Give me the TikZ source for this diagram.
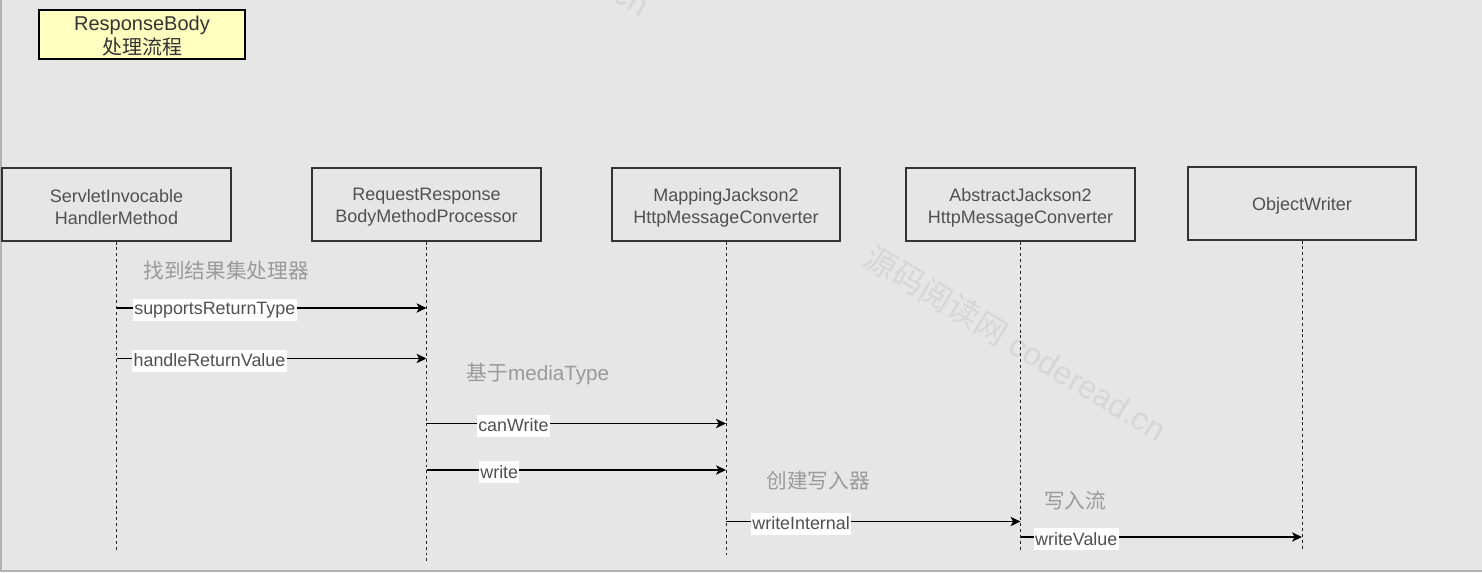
\documentclass[tikz,border=0pt]{standalone}
\usepackage{fontspec}
\setmainfont{Liberation Sans}
\newfontfamily\cjk{Noto Sans CJK SC}
\usetikzlibrary{arrows.meta}
\definecolor{bgc}{HTML}{E6E6E6}
\definecolor{edgec}{HTML}{B3B3B3}
\definecolor{boxtext}{HTML}{505050}
\definecolor{notec}{HTML}{9A9A9A}
\definecolor{wmc}{HTML}{D6D6D6}
\definecolor{titlefill}{HTML}{FFFFC0}
\begin{document}
\begin{tikzpicture}[x=0.75pt,y=-0.75pt,
  classbox/.style={draw=black!80, line width=0.9pt, fill=bgc,
    minimum width=171.75pt, minimum height=54.75pt, inner sep=0pt},
  classtext/.style={text=boxtext, align=center,
    font=\fontsize{13.5pt}{16.5pt}\selectfont, inner sep=0pt},
  titlebox/.style={draw=black, line width=0.9pt, fill=titlefill,
    minimum width=154.5pt, minimum height=36.75pt, inner sep=0pt},
  titletext/.style={text=black!80, align=center,
    font=\fontsize{15pt}{18pt}\selectfont, inner sep=0pt},
  lifeline/.style={draw=black!85, line width=0.7pt, dash pattern=on 2.2pt off 2.2pt},
  msg/.style={draw=black, line width=0.9pt, -{Stealth[length=7.5pt,width=7pt,inset=2pt]}},
  lbl/.style={fill=white, text=boxtext, font=\fontsize{13.4pt}{15pt}\selectfont,
    inner xsep=1pt, inner ysep=0pt, minimum height=16.5pt, yshift=-1.5pt},
  note/.style={text=notec, font=\fontsize{15.5pt}{18pt}\selectfont, inner sep=0pt},
  wm/.style={text=wmc, font=\fontsize{24pt}{28pt}\selectfont, rotate=-31, inner sep=0pt}
]
\fill[bgc] (0,0) rectangle (1482,572);
\clip (0,0) rectangle (1482,572);
\draw[edgec, line width=1.2pt] (0.8,0) -- (0.8,571.2) -- (1482,571.2);

% watermarks
\node[wm] (wm1) at (1016,343) {{\cjk 源码阅读网} coderead.cn};
\node[wm] (wm2) at (499,-82) {{\cjk 源码阅读网} coderead.cn};

% title
\node[titlebox] (title) at (142,34.5) {};
\node[titletext] (titlet) at ([yshift=-1.2pt]title.center) {ResponseBody\\{\cjk 处理流程}};

% participants
\node[classbox] (b1) at (116.5,204.5) {};
\node[classbox] (b2) at (426.5,204.5) {};
\node[classbox, minimum width=171pt] (b3) at (726,204.5) {};
\node[classbox] (b4) at (1020.5,204.5) {};
\node[classbox, minimum width=171pt] (b5) at (1302,203.5) {};
\node[classtext] (t1) at ([yshift=-2.2pt]b1.center) {ServletInvocable\\HandlerMethod};
\node[classtext] (t2) at ([yshift=-2.2pt]b2.center) {RequestResponse\\BodyMethodProcessor};
\node[classtext] (t3) at ([yshift=-2.2pt]b3.center) {MappingJackson2\\HttpMessageConverter};
\node[classtext] (t4) at ([yshift=-2.2pt]b4.center) {AbstractJackson2\\HttpMessageConverter};
\node[classtext] (t5) at ([yshift=-1.5pt]b5.center) {ObjectWriter};

% lifeline ends
\coordinate (e1) at (116.5,550);
\coordinate (e2) at (426.5,562);
\coordinate (e3) at (726,557);
\coordinate (e4) at (1020.5,550);
\coordinate (e5) at (1302,549);
\draw[lifeline] (b1.south) -- (e1);
\draw[lifeline] (b2.south) -- (e2);
\draw[lifeline] (b3.south) -- (e3);
\draw[lifeline] (b4.south) -- (e4);
\draw[lifeline] (b5.south) -- (e5);

% notes
\node[note] (n1) at (226,271) {\cjk 找到结果集处理器};
\node[note] (n2) at (538,374) {{\cjk 基于}mediaType};
\node[note] (n3) at (818,481) {\cjk 创建写入器};
\node[note] (n4) at (1075,501) {\cjk 写入流};

% message endpoints
\coordinate (m1s) at (116.5,308);  \coordinate (m1e) at (426.5,308);
\coordinate (m2s) at (116.5,358.5);\coordinate (m2e) at (426.5,358.5);
\coordinate (m3s) at (426.5,423.5);\coordinate (m3e) at (726,423.5);
\coordinate (m4s) at (426.5,470);  \coordinate (m4e) at (726,470);
\coordinate (m5s) at (726,521.5);  \coordinate (m5e) at (1020.5,521.5);
\coordinate (m6s) at (1020.5,537); \coordinate (m6e) at (1302,537);

\draw[msg] (m1s) -- node[lbl, pos=0.317] {supportsReturnType} (m1e);
\draw[msg] (m2s) -- node[lbl, pos=0.30] {handleReturnValue} (m2e);
\draw[msg] (m3s) -- node[lbl, pos=0.29] {canWrite} (m3e);
\draw[msg] (m4s) -- node[lbl, pos=0.243] {write} (m4e);
\draw[msg] (m5s) -- node[lbl, pos=0.255] {writeInternal} (m5e);
\draw[msg] (m6s) -- node[lbl, pos=0.198] {writeValue} (m6e);
\end{tikzpicture}
\end{document}
